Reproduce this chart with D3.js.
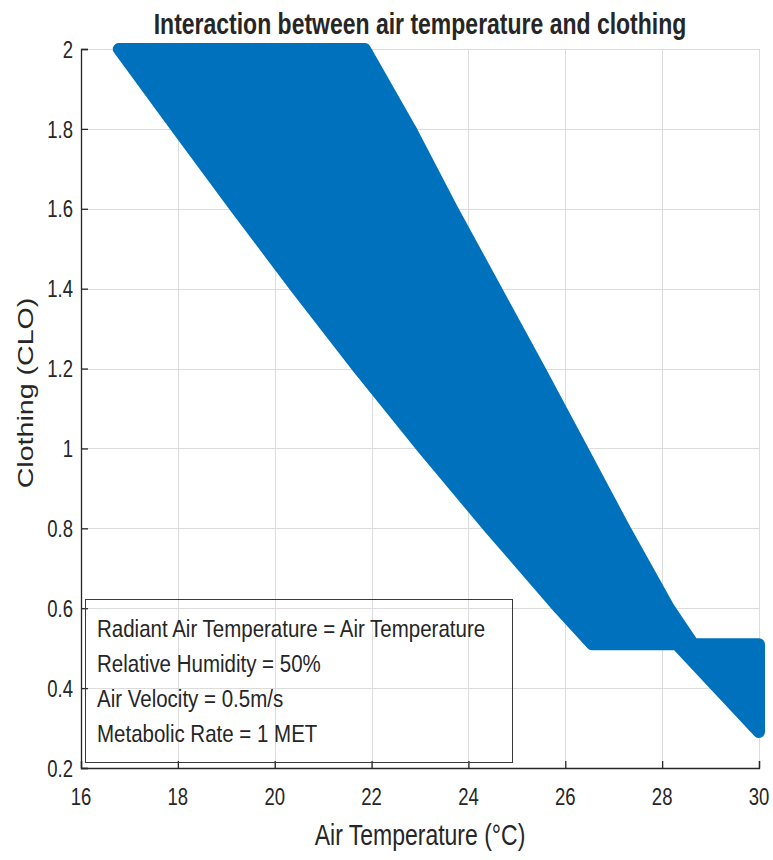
<!DOCTYPE html>
<html>
<head>
<meta charset="utf-8">
<script src="https://cdn.jsdelivr.net/npm/d3@7"></script>
<style>
  html, body { margin: 0; padding: 0; background: #fff; }
  svg { display: block; }
  text { font-family: "Liberation Sans", Arial, Helvetica, sans-serif; fill: #262626; }
</style>
</head>
<body>
<svg id="chart" width="773" height="860"></svg>
<script>
// Comfort zone: for each clothing level, the lowest and highest air temperature
const cloLevels = [2.0, 1.8, 1.6, 1.4, 1.2, 1.0, 0.8, 0.6, 0.51];
const tempLow   = [16.78, 17.99, 19.21, 20.45, 21.73, 23.06, 24.44, 25.87, 26.55];
const tempHigh  = [21.86, 22.80, 23.66, 24.56, 25.46, 26.34, 27.22, 28.14, 28.64];

// Light-clothing tail at the warm end
const tailClo  = [0.51, 0.29];
const tailLow  = [28.30, 30.0];
const tailHigh = [30.0, 30.0];

const xTicks = [16, 18, 20, 22, 24, 26, 28, 30];
const yTicks = [0.2, 0.4, 0.6, 0.8, 1, 1.2, 1.4, 1.6, 1.8, 2];

const titleText = "Interaction between air temperature and clothing";
const xLabelText = "Air Temperature (°C)";
const yLabelText = "Clothing (CLO)";
const noteLines = [
  "Radiant Air Temperature = Air Temperature",
  "Relative Humidity = 50%",
  "Air Velocity = 0.5m/s",
  "Metabolic Rate = 1 MET"
];

const svg = d3.select("#chart");
const stretch = 1.3;
const blue = "#0072BD";

const x = d3.scaleLinear().domain([16, 30]).range([81, 759]);
const y = d3.scaleLinear().domain([0.2, 2]).range([768, 49]);

// grid
const grid = svg.append("g").attr("stroke", "#dcdcdc").attr("stroke-width", 1);
grid.selectAll("line.v").data(xTicks).join("line")
  .attr("x1", d => Math.round(x(d)) + 0.5).attr("x2", d => Math.round(x(d)) + 0.5)
  .attr("y1", y(2)).attr("y2", y(0.2));
grid.selectAll("line.h").data(yTicks).join("line")
  .attr("y1", d => Math.round(y(d)) + 0.5).attr("y2", d => Math.round(y(d)) + 0.5)
  .attr("x1", x(16)).attr("x2", x(30));

// comfort region, outlined with a thick round stroke like filled scatter markers
const outline = [];
cloLevels.forEach((c, i) => outline.push([tempHigh[i], c]));
tailClo.forEach((c, i) => outline.push([tailHigh[i], c]));
for (let i = tailClo.length - 1; i >= 0; i--) outline.push([tailLow[i], tailClo[i]]);
for (let i = cloLevels.length - 1; i >= 0; i--) outline.push([tempLow[i], cloLevels[i]]);

const area = d3.line().x(d => x(d[0])).y(d => y(d[1])).curve(d3.curveLinearClosed);
svg.append("path")
  .attr("d", area(outline))
  .attr("fill", blue)
  .attr("stroke", blue)
  .attr("stroke-width", 12)
  .attr("stroke-linejoin", "round");

// axes
const xAxis = d3.axisBottom(x).tickValues(xTicks).tickSize(-7).tickFormat("");
const yAxis = d3.axisLeft(y).tickValues(yTicks).tickSize(-7).tickFormat("");
const gx = svg.append("g").attr("transform", `translate(0,${y(0.2)})`).call(xAxis);
const gy = svg.append("g").attr("transform", `translate(${x(16)},0)`).call(yAxis);
[gx, gy].forEach(g => {
  g.select(".domain").attr("stroke", "#262626").attr("stroke-width", 1.3);
  g.selectAll(".tick line").attr("stroke", "#262626").attr("stroke-width", 1.3);
});

// tick labels
svg.append("g").selectAll("text").data(xTicks).join("text")
  .attr("transform", d => `translate(${x(d)},796) scale(1,${stretch})`)
  .attr("text-anchor", "middle").attr("dy", "0.36em")
  .attr("font-size", 18.5)
  .text(d => d);
svg.append("g").selectAll("text").data(yTicks).join("text")
  .attr("transform", d => `translate(73,${y(d)}) scale(1,${stretch})`)
  .attr("text-anchor", "end").attr("dy", "0.36em")
  .attr("font-size", 18.5)
  .text(d => d);

// title and axis labels
svg.append("text")
  .attr("transform", `translate(420,34) scale(1,${stretch})`)
  .attr("text-anchor", "middle")
  .attr("font-size", 23).attr("font-weight", "bold")
  .attr("fill", "#000")
  .text(titleText);
svg.append("text")
  .attr("transform", `translate(420,845) scale(1,${stretch})`)
  .attr("text-anchor", "middle")
  .attr("font-size", 23)
  .text(xLabelText);
svg.append("text")
  .attr("transform", `translate(25,393) rotate(-90) scale(${stretch},1)`)
  .attr("text-anchor", "middle").attr("dy", "0.36em")
  .attr("font-size", 22)
  .text(yLabelText);

// annotation box
const note = svg.append("g");
note.append("rect")
  .attr("x", 85.5).attr("y", 599.5).attr("width", 427).attr("height", 163)
  .attr("fill", "none").attr("stroke", "#3a3a3a").attr("stroke-width", 1);
note.selectAll("text").data(noteLines).join("text")
  .attr("transform", (d, i) => `translate(97,${628 + i * 35}) scale(1,1.18)`)
  .attr("dy", "0.36em")
  .attr("font-size", 20.5)
  .text(d => d);
</script>
</body>
</html>
